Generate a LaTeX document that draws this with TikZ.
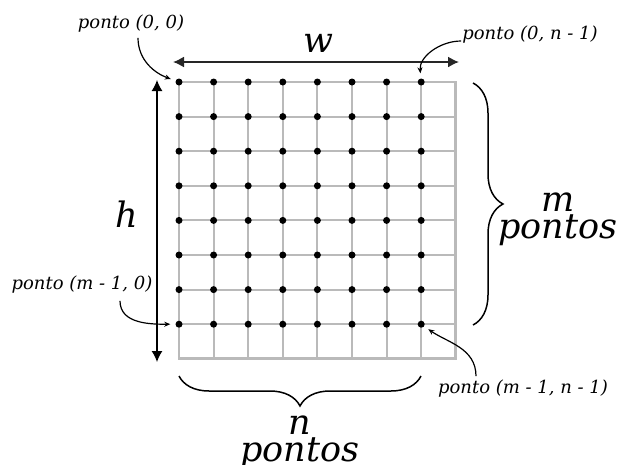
\documentclass[tikz,border=0pt]{standalone}
\usepackage{fontspec}
\setmainfont{DejaVu Serif}
\usetikzlibrary{arrows.meta, decorations.pathreplacing}

\begin{document}
\begin{tikzpicture}[x=1pt, y=1pt,
    dot/.style={circle, fill=black, inner sep=0pt, minimum size=7pt},
    gridline/.style={draw=black!27, line width=2pt},
    dimarrow/.style={line width=1.6pt, {Latex[length=11pt,width=11pt]}-{Latex[length=11pt,width=11pt]}},
    pointer/.style={line width=1.2pt, -{Stealth[length=6pt,width=5pt]}, shorten >=5pt},
    ptlabel/.style={font=\fontsize{18}{20}\selectfont\itshape, inner sep=1pt},
    biglabel/.style={font=\fontsize{35}{27}\selectfont\itshape, align=center, inner sep=0pt},
    curly/.style={decorate, decoration={brace, amplitude=30pt}, line width=1.5pt}]
    \useasboundingbox (0,0) rectangle (622,-464);

    % grade
    \foreach \k in {0,...,8} {
        \draw[gridline] ({179+34.6*\k},-82) -- ({179+34.6*\k},{-82-34.6*8});
        \draw[gridline] (179,{-82-34.6*\k}) -- ({179+34.6*8},{-82-34.6*\k});
    }
    \draw[gridline, line width=2.8pt] (179,-82) rectangle ({179+34.6*8},{-82-34.6*8});
    \foreach \i in {0,...,7}
        \foreach \j in {0,...,7}
            \node[dot] (p\i\j) at ({179+34.6*\j},{-82-34.6*\i}) {};

    % largura e altura
    \coordinate (wl) at (173,-62);
    \coordinate (wr) at (459,-62);
    \draw[dimarrow, black!85] (wl) -- (wr);
    \node[biglabel] (w) at (318,-43) {w};
    \coordinate (ht) at (157,-80);
    \coordinate (hb) at (157,-362);
    \draw[dimarrow, line width=1.3pt] (ht) -- (hb);
    \node[biglabel] (h) at (127,-214) {h};

    % chaves
    \coordinate (mt) at (473,-83);
    \coordinate (mb) at (473,-325);
    \draw[curly] (mt) -- (mb);
    \node[biglabel] (mpts) at (558,-219) {m\\pontos};
    \coordinate (nr) at (421,-376);
    \coordinate (nl) at (179,-376);
    \draw[curly] (nr) -- (nl);
    \node[biglabel] (npts) at (300,-442) {n\\pontos};

    % pontos dos cantos
    \node[ptlabel] (l00) at (131,-24) {ponto (0, 0)};
    \node[ptlabel] (l0n) at (530,-35) {ponto (0, n - 1)};
    \node[ptlabel] (lm0) at (82,-285) {ponto (m - 1, 0)};
    \node[ptlabel] (lmn) at (523,-389) {ponto (m - 1, n - 1)};
    \draw[pointer] ([xshift=7pt,yshift=-4pt]l00.south) to[out=-90,in=160] (p00);
    \draw[pointer] ([yshift=-6pt]l0n.west) to[out=180,in=95] (p07);
    \draw[pointer] ([xshift=38pt,yshift=-6pt]lm0.south) to[out=-90,in=180] (p70);
    \draw[pointer] ([xshift=-47pt,yshift=3pt]lmn.north) to[out=90,in=-35] (p77);
\end{tikzpicture}
\end{document}
